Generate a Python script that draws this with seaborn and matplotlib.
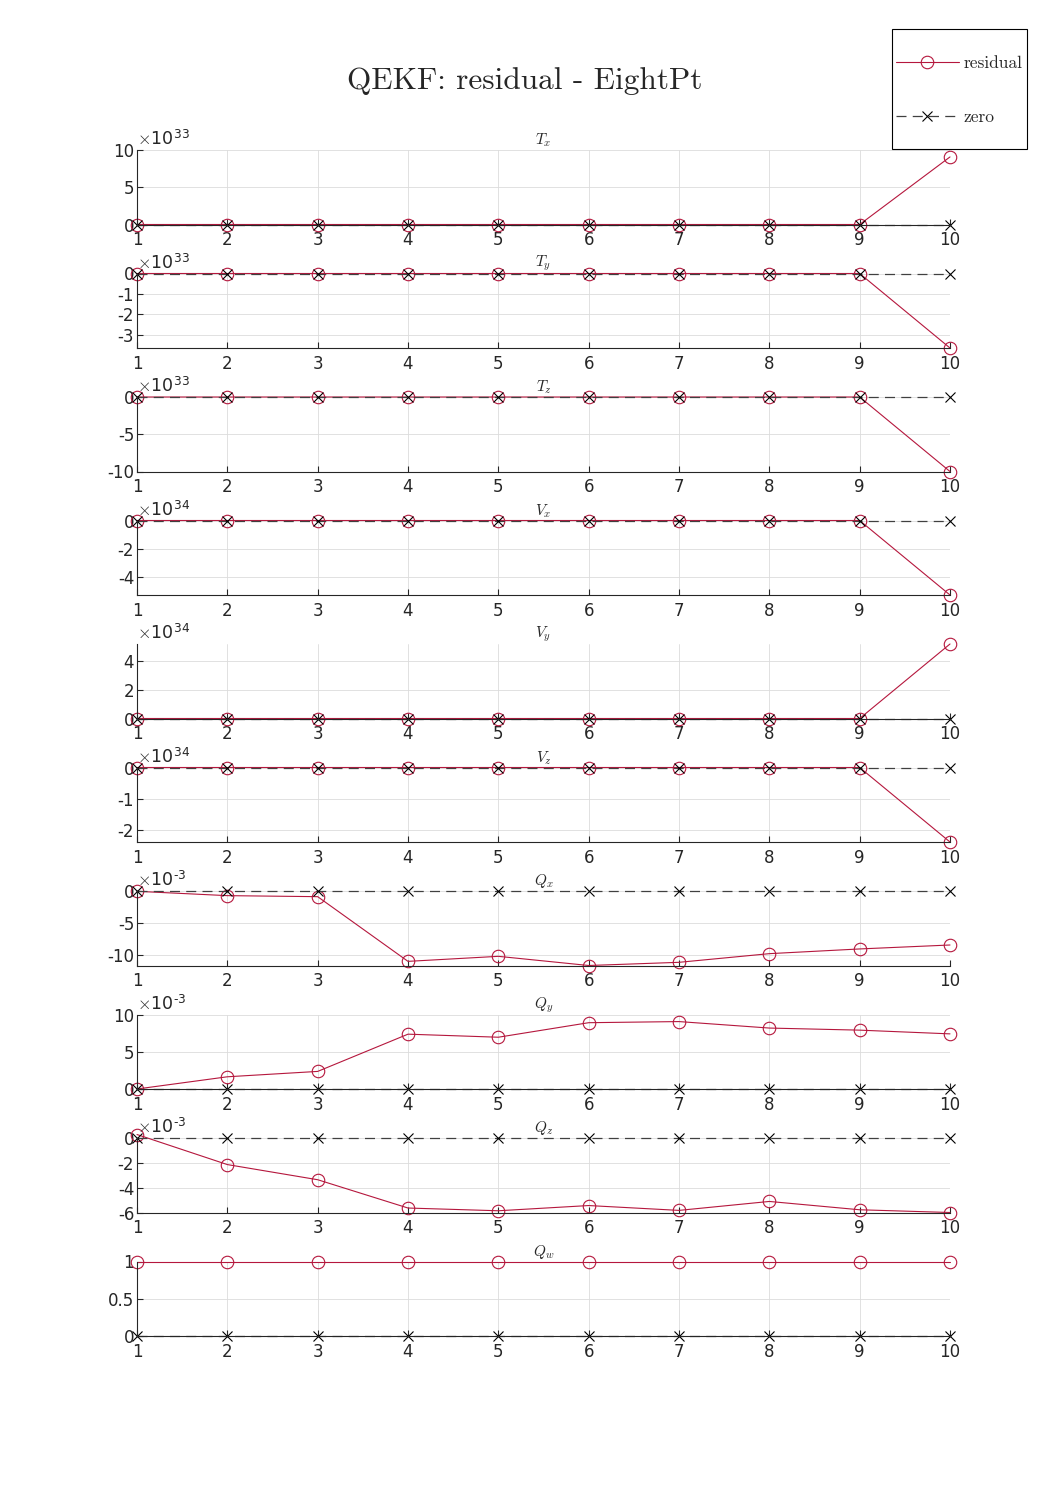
import numpy as np
import seaborn as sns
import matplotlib.pyplot as plt
from matplotlib.patches import Rectangle
from matplotlib.ticker import FuncFormatter

sns.set_style("ticks")
plt.rcParams['font.family'] = ['DejaVu Sans']
plt.rcParams['mathtext.fontset'] = 'cm'
plt.rcParams['axes.unicode_minus'] = False

# data
steps = [1, 2, 3, 4, 5, 6, 7, 8, 9, 10]
zero = [0, 0, 0, 0, 0, 0, 0, 0, 0, 0]

tx_res = [0, 0, 0, 0, 0, 0, 0, 0, 0, 9.07e33]
ty_res = [0, 0, 0, 0, 0, 0, 0, 0, 0, -3.66e33]
tz_res = [0, 0, 0, 0, 0, 0, 0, 0, 0, -1.0e34]
vx_res = [0, 0, 0, 0, 0, 0, 0, 0, 0, -5.28e34]
vy_res = [0, 0, 0, 0, 0, 0, 0, 0, 0, 5.19e34]
vz_res = [0, 0, 0, 0, 0, 0, 0, 0, 0, -2.39e34]
qx_res = [-0.05e-3, -0.73e-3, -0.89e-3, -11.05e-3, -10.26e-3, -11.7e-3, -11.2e-3, -9.84e-3, -9.1e-3, -8.48e-3]
qy_res = [0, 1.64e-3, 2.36e-3, 7.36e-3, 6.95e-3, 8.9e-3, 9.05e-3, 8.18e-3, 7.9e-3, 7.4e-3]
qz_res = [0.28e-3, -2.14e-3, -3.36e-3, -5.64e-3, -5.86e-3, -5.44e-3, -5.83e-3, -5.11e-3, -5.78e-3, -6.0e-3]
qw_res = [1, 1, 1, 1, 1, 1, 1, 1, 1, 1]

titles = [r'$T_x$', r'$T_y$', r'$T_z$', r'$V_x$', r'$V_y$', r'$V_z$',
          r'$Q_x$', r'$Q_y$', r'$Q_z$', r'$Q_w$']
residuals = [tx_res, ty_res, tz_res, vx_res, vy_res, vz_res, qx_res, qy_res, qz_res, qw_res]
ylims = [(0, 10e33), (-3.66e33, 0), (-10e33, 0), (-5.28e34, 0), (0, 5.19e34),
         (-2.39e34, 0), (-11.7e-3, 0), (0, 10e-3), (-6e-3, 0), (0, 1)]
yticks = [[0, 5e33, 10e33], [-3e33, -2e33, -1e33, 0], [-10e33, -5e33, 0],
          [-4e34, -2e34, 0], [0, 2e34, 4e34], [-2e34, -1e34, 0],
          [-10e-3, -5e-3, 0], [0, 5e-3, 10e-3], [-6e-3, -4e-3, -2e-3, 0], [0, 0.5, 1]]
exps = [33, 33, 33, 34, 34, 34, -3, -3, -3, 0]

RED = '#b5173d'
TXT = '#262626'


def scaled(e):
    return FuncFormatter(lambda v, p: '%g' % round(v / 10.0 ** e, 6))


fig = plt.figure(figsize=(10.5, 15), dpi=100)
W, H = 1050, 1500
axes = []
for i in range(10):
    top = 150 + i * 123.5
    ax = fig.add_axes([137 / W, 1 - (top + 74.5) / H, 813 / W, 74.5 / H])
    axes.append(ax)

    sns.lineplot(x=steps, y=residuals[i], ax=ax, color=RED, lw=0.8,
                 marker='o', markersize=9, markerfacecolor='none',
                 markeredgecolor=RED, markeredgewidth=0.8,
                 label='residual', legend=False, clip_on=False)
    sns.lineplot(x=steps, y=zero, ax=ax, color='#404040', lw=0.9,
                 linestyle=(0, (8, 5)), marker='x', markersize=7,
                 markeredgecolor='black', markeredgewidth=0.8,
                 label='zero', legend=False, clip_on=False)

    ax.set_xlim(1, 10)
    ax.set_xticks(steps)
    ax.set_ylim(*ylims[i])
    ax.set_yticks(yticks[i])
    ax.yaxis.set_major_formatter(scaled(exps[i]))
    if exps[i] != 0:
        ex = str(exps[i]).replace('-', '\u2010')
        ax.text(0, 1.01, r'$\times$10$^{\mathdefault{%s}}$' % ex, transform=ax.transAxes,
                ha='left', va='bottom', fontsize=12.5, color=TXT)
    ax.set_xlabel('')
    ax.set_ylabel('')
    ax.grid(True, color='#dcdcdc', lw=0.6)
    ax.set_axisbelow(True)
    sns.despine(ax=ax)
    for s in ['left', 'bottom']:
        ax.spines[s].set_color(TXT)
        ax.spines[s].set_linewidth(0.8)
    ax.tick_params(direction='in', length=4, width=0.8, labelsize=12,
                   colors=TXT, pad=2)
    ax.tick_params(axis='x', pad=5)
    ax.set_title(titles[i], fontsize=11, pad=4)

fig.text(0.5, 1 - 81 / H, 'QEKF: residual - EightPt', ha='center', va='center',
         family='cmr10', fontsize=22.5)

# legend box drawn separately, entries placed inside it
fig.patches.append(Rectangle((892 / W, 1 - 149 / H), 135 / W, 120 / H,
                             transform=fig.transFigure, fill=False,
                             ec='black', lw=0.8))
handles, labels = axes[0].get_legend_handles_labels()
fig.legend(handles, labels, loc='upper left',
           bbox_to_anchor=(896 / W, 1 - 56 / H),
           prop={'family': 'cmr10', 'size': 12.5}, frameon=False,
           handlelength=3.6, labelspacing=2.2,
           borderpad=0, handletextpad=0.3, borderaxespad=0)

fig.savefig('out.png', dpi=100)
